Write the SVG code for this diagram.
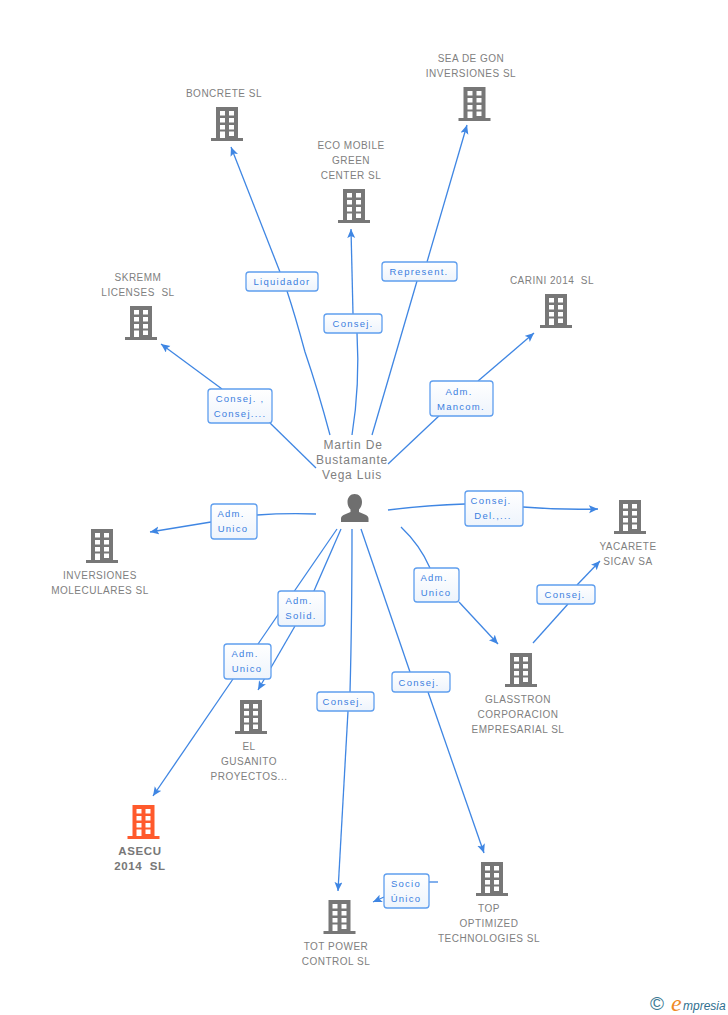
<svg xmlns="http://www.w3.org/2000/svg" width="728" height="1015" viewBox="0 0 728 1015">
<style>
text{white-space:pre}
.n{font-family:"Liberation Sans",Arial,sans-serif;font-size:10px;fill:#808080;text-anchor:middle;letter-spacing:.5px}
.p{font-size:12px;letter-spacing:.8px}
.b{font-weight:bold;font-size:11.5px;fill:#777;letter-spacing:.6px}
.l{font-family:"Liberation Sans",Arial,sans-serif;font-size:9.5px;fill:#3b7fe0;text-anchor:middle;letter-spacing:1.25px}
.c path{fill:none;stroke:#3f86e3;stroke-width:1.3}
.r{fill:url(#g);stroke:#5f9eee;stroke-width:1.3}
</style>
<defs>
<linearGradient id="g" x1="0" y1="0" x2="0" y2="1"><stop offset="0" stop-color="#fff"/><stop offset="1" stop-color="#eef4fc"/></linearGradient>
<marker id="a" markerWidth="10" markerHeight="10" refX="9" refY="4" orient="auto" markerUnits="userSpaceOnUse"><path d="M0 0L9 4L0 8L2 4Z" fill="#3f86e3"/></marker>
<path id="bw" d="M-11 0H11V31H16V34H-16V31H-11ZM-7 4V8.500H-2V4ZM2 4V8.500H7V4ZM-7 11V15.500H-2V11ZM2 11V15.500H7V11ZM-7 18V22.500H-2V18ZM2 18V22.500H7V18ZM-7 24.500V31H-2V24.500ZM2 24.500V29H7V24.500Z" fill-rule="evenodd"/>
</defs>
<rect width="728" height="1015" fill="#fff"/>
<g class="c">
<path d="M330 435Q318 390 305 352Q295 315 287 291"/><path d="M280 272L231 147" marker-end="url(#a)"/>
<path d="M352 435Q360 385 357 333"/><path d="M353 314L351 229" marker-end="url(#a)"/>
<path d="M372 435L417 281"/><path d="M427 262L467 125" marker-end="url(#a)"/>
<path d="M388 464L441 414"/><path d="M478 381L534 333" marker-end="url(#a)"/>
<path d="M316 468L270 423"/><path d="M222 389L161 344" marker-end="url(#a)"/>
<path d="M316 514Q285 513 257 515"/><path d="M211 522L150 532" marker-end="url(#a)"/>
<path d="M388 510Q430 505 465 504"/><path d="M523 507Q560 510 598 509" marker-end="url(#a)"/>
<path d="M401 527Q420 545 430 568"/><path d="M459 602L498 644" marker-end="url(#a)"/>
<path d="M533 643L568 604"/><path d="M577 585L600 561" marker-end="url(#a)"/>
<path d="M341 529L310 600"/><path d="M295 626L258 690" marker-end="url(#a)"/>
<path d="M337 529L258 644"/><path d="M233 679L153 796" marker-end="url(#a)"/>
<path d="M352 529Q352 620 350 692"/><path d="M348 711L338 891" marker-end="url(#a)"/>
<path d="M361 529Q385 600 410 672"/><path d="M428 692L484 853" marker-end="url(#a)"/>
<path d="M438 882H429"/><path d="M384 897L373 902" marker-end="url(#a)"/>
</g>
<g id="center"><text class="n p" x="353" y="449">Martin De</text><text class="n p" x="352" y="464">Bustamante</text><text class="n p" x="352" y="479">Vega Luis</text>
<path d="M354.500 494c4.500 0 7.500 3.500 7.500 8 0 3-1.200 5.500-3 7.500v2.500l7 3c1.500.7 2.500 2 2.500 3.500V522H341v-3.500c0-1.500 1-2.800 2.500-3.500l7-3v-2.500c-1.800-2-3-4.500-3-7.500 0-4.500 3-8 7-8z" fill="#6f6f6f"/></g>
<g id="boncrete" fill="#777"><use href="#bw" x="227" y="107"/><text class="n" x="224" y="97">BONCRETE SL</text></g>
<g id="seadegon" fill="#777"><use href="#bw" x="474.500" y="87"/><text class="n" x="471" y="62">SEA DE GON</text><text class="n" x="471" y="77">INVERSIONES SL</text></g>
<g id="ecomobile" fill="#777"><use href="#bw" x="354" y="189"/><text class="n" x="351" y="149">ECO MOBILE</text><text class="n" x="351" y="164">GREEN</text><text class="n" x="351" y="179">CENTER SL</text></g>
<g id="skremm" fill="#777"><use href="#bw" x="141" y="306"/><text class="n" x="138" y="281">SKREMM</text><text class="n" x="138" y="296">LICENSES  SL</text></g>
<g id="carini" fill="#777"><use href="#bw" x="556" y="294"/><text class="n" x="552" y="284">CARINI 2014  SL</text></g>
<g id="yacarete" fill="#777"><use href="#bw" x="630" y="500"/><text class="n" x="628" y="550">YACARETE</text><text class="n" x="628" y="565">SICAV SA</text></g>
<g id="inversiones" fill="#777"><use href="#bw" x="102" y="529"/><text class="n" x="100" y="579">INVERSIONES</text><text class="n" x="100" y="594">MOLECULARES SL</text></g>
<g id="glasstron" fill="#777"><use href="#bw" x="521" y="653"/><text class="n" x="518" y="703">GLASSTRON</text><text class="n" x="518" y="718">CORPORACION</text><text class="n" x="518" y="733">EMPRESARIAL SL</text></g>
<g id="gusanito" fill="#777"><use href="#bw" x="251" y="700"/><text class="n" x="249" y="750">EL</text><text class="n" x="249" y="765">GUSANITO</text><text class="n" x="249" y="780">PROYECTOS...</text></g>
<g id="asecu" fill="#ff5a2c"><use href="#bw" x="143.500" y="805"/><text class="n b" x="140" y="855">ASECU</text><text class="n b" x="140" y="870">2014  SL</text></g>
<g id="totpower" fill="#777"><use href="#bw" x="339.500" y="900"/><text class="n" x="336" y="950">TOT POWER</text><text class="n" x="336" y="965">CONTROL SL</text></g>
<g id="top" fill="#777"><use href="#bw" x="492" y="862"/><text class="n" x="489" y="912">TOP</text><text class="n" x="489" y="927">OPTIMIZED</text><text class="n" x="489" y="942">TECHNOLOGIES SL</text></g>
<g id="labels">
<rect class="r" x="246" y="272" width="72" height="19" rx="3"/><text class="l" x="282" y="285">Liquidador</text>
<rect class="r" x="324" y="314" width="58" height="19" rx="3"/><text class="l" x="353" y="327">Consej.</text>
<rect class="r" x="382" y="262" width="75" height="19" rx="3"/><text class="l" x="419" y="275">Represent.</text>
<rect class="r" x="430" y="381" width="63" height="35" rx="3"/><text class="l" x="459" y="395">Adm.</text><text class="l" x="461" y="410">Mancom.</text>
<rect class="r" x="208" y="389" width="64" height="34" rx="3"/><text class="l" x="240" y="402">Consej. ,</text><text class="l" x="240" y="417">Consej....</text>
<rect class="r" x="211" y="504" width="46" height="35" rx="3"/><text class="l" x="231" y="517">Adm.</text><text class="l" x="233" y="532">Unico</text>
<rect class="r" x="465" y="491" width="58" height="35" rx="3"/><text class="l" x="491" y="504">Consej.</text><text class="l" x="493" y="519">Del.,...</text>
<rect class="r" x="414" y="568" width="45" height="34" rx="3"/><text class="l" x="434" y="581">Adm.</text><text class="l" x="436" y="596">Unico</text>
<rect class="r" x="537" y="585" width="58" height="19" rx="3"/><text class="l" x="565" y="598">Consej.</text>
<rect class="r" x="278" y="591" width="47" height="35" rx="3"/><text class="l" x="299" y="604">Adm.</text><text class="l" x="301" y="619">Solid.</text>
<rect class="r" x="224" y="644" width="47" height="35" rx="3"/><text class="l" x="245" y="657">Adm.</text><text class="l" x="247" y="672">Unico</text>
<rect class="r" x="317" y="692" width="57" height="19" rx="3"/><text class="l" x="343" y="705">Consej.</text>
<rect class="r" x="392" y="672" width="58" height="20" rx="3"/><text class="l" x="419" y="686">Consej.</text>
<rect class="r" x="384" y="874" width="45" height="34" rx="3"/><text class="l" x="406" y="887">Socio</text><text class="l" x="406" y="902">Único</text>
</g>
<g id="logo" font-family="Liberation Sans,sans-serif"><text x="650" y="1010" font-size="19" fill="#3c7a94">©</text><text x="671" y="1011" font-size="24" font-style="italic" font-family="Liberation Serif,serif" fill="#f08a24">e</text><text x="683" y="1010" font-size="12" font-style="italic" fill="#2f6f8f">mpresia</text></g>
</svg>
